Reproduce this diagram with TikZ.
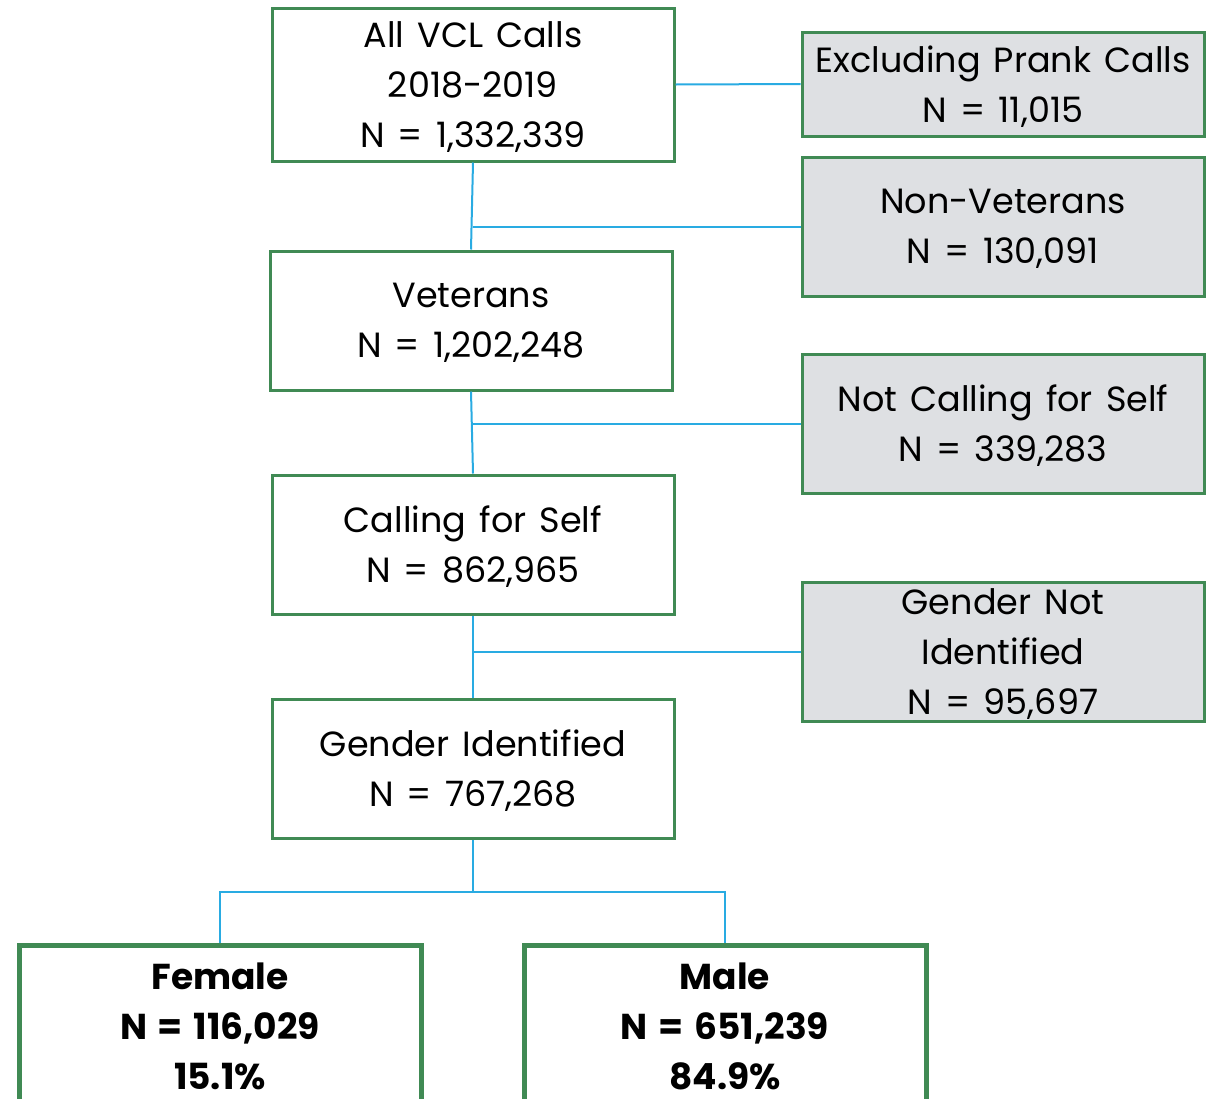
\documentclass[tikz,border=0pt]{standalone}
\usepackage{fontspec}
\setmainfont{Poppins}[WordSpace=1.4]
\usetikzlibrary{calc}

\definecolor{boxgreen}{RGB}{64,138,84}
\definecolor{linkblue}{RGB}{41,171,226}
\definecolor{dropgray}{RGB}{222,224,227}

\tikzset{
  keepbox/.style={draw=boxgreen, line width=3pt, minimum width=402pt,
    minimum height=139pt, align=center, inner sep=0pt, text depth=0pt,
    font=\fontsize{35}{50}\selectfont},
  dropbox/.style={keepbox, fill=dropgray},
  finalbox/.style={keepbox, line width=5pt, minimum height=162pt,
    font=\fontsize{36}{50}\selectfont\bfseries},
  link/.style={draw=linkblue, line width=2pt}
}

% (kept above, kept below, dropped)
\newcommand{\dropout}[3]{
    \draw[link] (#1.south) -- (#2.north);
    \draw[link] (#1.south |- #3.west) -- (#3.west);
}

\begin{document}
\begin{tikzpicture}[x=1pt,y=-1pt]
  \useasboundingbox (0,0) rectangle (1212,1098);

  \node[keepbox, minimum height=153pt] (all) at (473,84.5)
    {All VCL Calls\\2018-2019\\N = 1,332,339};
  \node[keepbox] (vet) at (471,320.5) {Veterans\\N = 1,202,248};
  \node[keepbox] (self) at (473,544.5) {Calling for Self\\N = 862,965};
  \node[keepbox] (gid) at (473,768.5) {Gender Identified\\N = 767,268};

  \node[dropbox, minimum height=104pt] (prank) at (1003,84)
    {Excluding Prank Calls\\N = 11,015};
  \node[dropbox] (nonvet) at (1003,226.5) {Non-Veterans\\N = 130,091};
  \node[dropbox] (notself) at (1003,423.5) {Not Calling for Self\\N = 339,283};
  \node[dropbox, inner ysep=-6pt] (nogid) at (1003,652)
    {Gender Not\\Identified\\N = 95,697};

  \node[finalbox] (female) at (220,1026) {Female\\N = 116,029\\15.1\%};
  \node[finalbox] (male) at (725,1026) {Male\\N = 651,239\\84.9\%};

  \draw[link] (all.east) -- (prank.west);
  \dropout{all}{vet}{nonvet}
  \dropout{vet}{self}{notself}
  \dropout{self}{gid}{nogid}

  \coordinate (split) at (473,892);
  \draw[link] (gid.south) -- (split);
  \draw[link] (female.north) |- (split) -| (male.north);

\end{tikzpicture}
\end{document}
